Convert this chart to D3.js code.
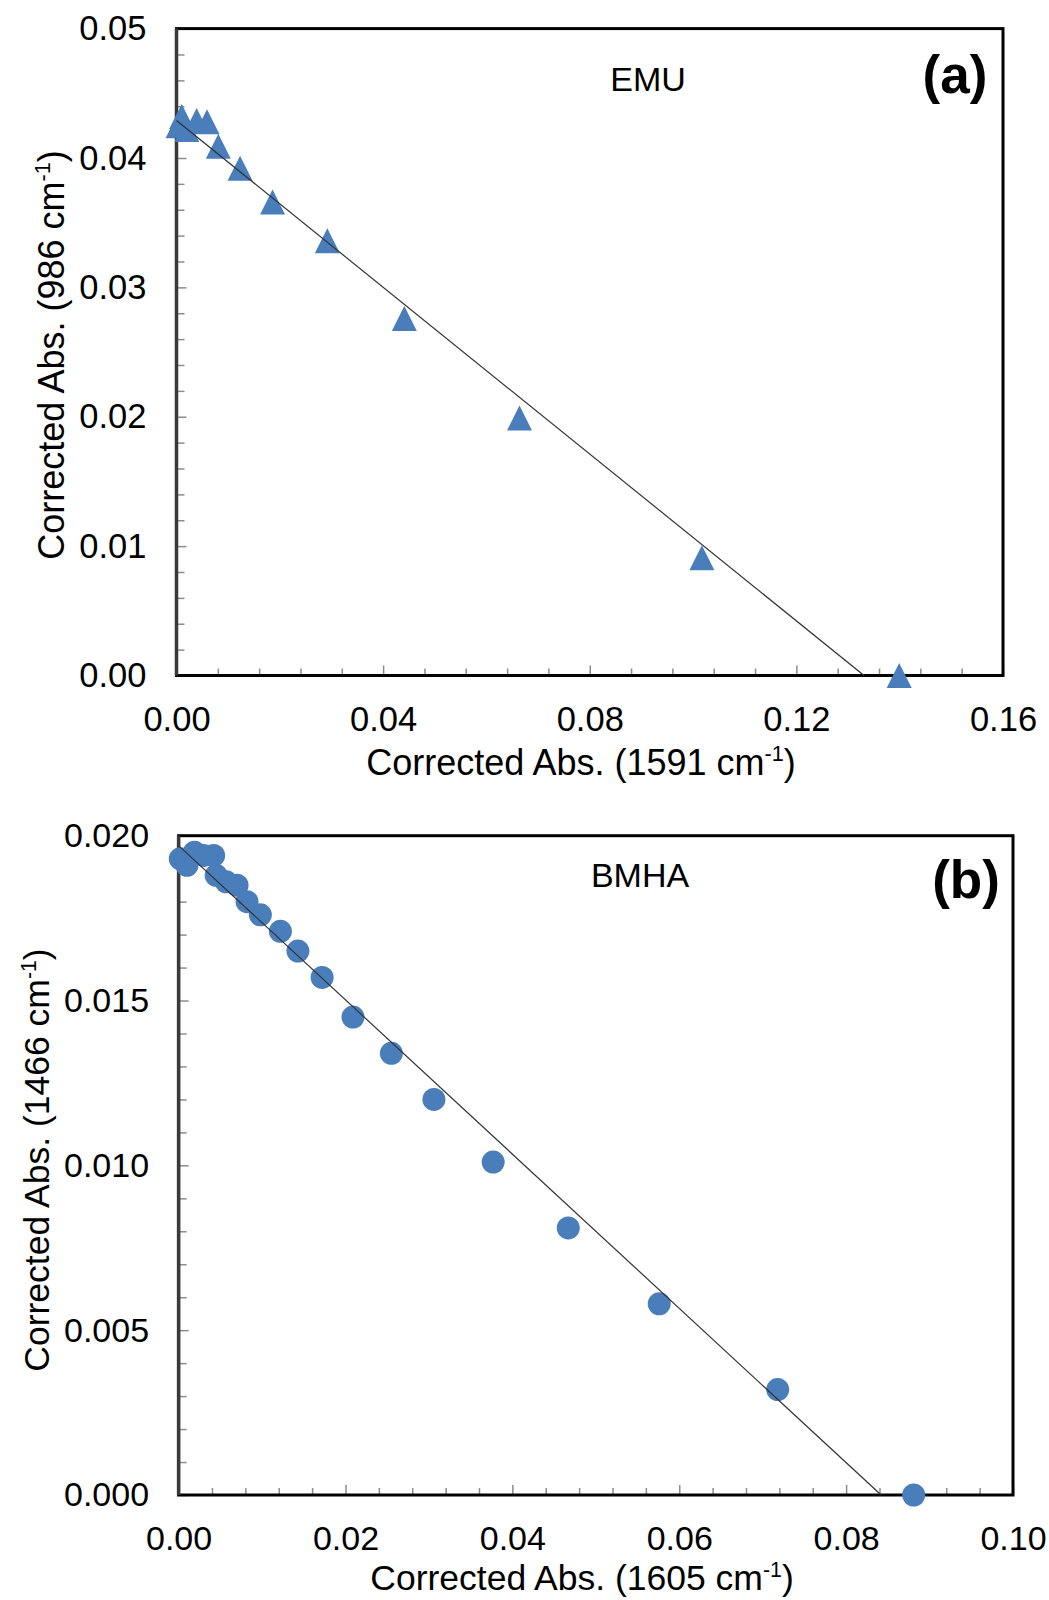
<!DOCTYPE html>
<html>
<head>
<meta charset="utf-8">
<script src="https://cdn.jsdelivr.net/npm/d3@7"></script>
<style>
  html, body { margin: 0; padding: 0; background: #fff; }
  svg { display: block; font-family: "Liberation Sans", Arial, sans-serif; }
</style>
</head>
<body>
<svg id="chart" width="1049" height="1600"></svg>
<script>
// (a) EMU: corrected absorbance at 1591 cm-1 vs 986 cm-1
const emuX = [0.0010, 0.0003, 0.0020, 0.0039, 0.0059, 0.0081, 0.0123, 0.0186, 0.0292, 0.0441, 0.0664, 0.1017, 0.1399];
const emuY = [0.0432, 0.0425, 0.0422, 0.0429, 0.0428, 0.0409, 0.0392, 0.0366, 0.0336, 0.0276, 0.0199, 0.0091, 0.0000];
const emuFitX = [0, 0.1331];
const emuFitY = [0.0429, 0];
const emuXTicks = [0, 0.04, 0.08, 0.12, 0.16];
const emuYTicks = [0, 0.01, 0.02, 0.03, 0.04, 0.05];

// (b) BMHA: corrected absorbance at 1605 cm-1 vs 1466 cm-1
const bmhaX = [0.0002, 0.0010, 0.0019, 0.0030, 0.0042, 0.0045, 0.0057, 0.0070, 0.0082, 0.0098, 0.0122, 0.0143, 0.0172, 0.0209, 0.0255, 0.0306, 0.0377, 0.0467, 0.0576, 0.0718, 0.0881];
const bmhaY = [0.0193, 0.0191, 0.0195, 0.0194, 0.0194, 0.0188, 0.0186, 0.0185, 0.0180, 0.0176, 0.0171, 0.0165, 0.0157, 0.0145, 0.0134, 0.0120, 0.0101, 0.0081, 0.0058, 0.0032, 0.0000];
const bmhaFitX = [0, 0.0842];
const bmhaFitY = [0.0197, 0];
const bmhaXTicks = [0, 0.02, 0.04, 0.06, 0.08, 0.10];
const bmhaYTicks = [0, 0.005, 0.010, 0.015, 0.020];

const MARKER = "#4a7ebb";
const TICK = "#8c8c8c";
const svg = d3.select("#chart");

// triangle marker inscribed in a square box centred on the point
function trianglePath(s) {
  const h = s / 2;
  return `M0,${-h}L${h},${h}L${-h},${h}Z`;
}

function drawPanel(p) {
  const x = d3.scaleLinear().domain(p.xDomain).range([p.left, p.right]);
  const y = d3.scaleLinear().domain(p.yDomain).range([p.bottom, p.top]);
  const g = svg.append("g");

  const eps = 1e-9;
  const isMajor = (v, majors) => majors.some(m => Math.abs(m - v) < eps);
  const xMinor = d3.range(p.xDomain[0], p.xDomain[1] + eps, p.xMinorStep).filter(v => !isMajor(v, p.xTicks));
  const yMinor = d3.range(p.yDomain[0], p.yDomain[1] + eps, p.yMinorStep).filter(v => !isMajor(v, p.yTicks));

  // minor ticks (inside)
  g.append("g").attr("transform", `translate(0,${p.bottom})`)
    .call(d3.axisBottom(x).tickValues(xMinor).tickSize(-7).tickFormat(""))
    .call(a => a.select(".domain").remove())
    .call(a => a.selectAll("line").attr("stroke", TICK).attr("stroke-width", 1.5));
  g.append("g").attr("transform", `translate(${p.left},0)`)
    .call(d3.axisLeft(y).tickValues(yMinor).tickSize(-8).tickFormat(""))
    .call(a => a.select(".domain").remove())
    .call(a => a.selectAll("line").attr("stroke", TICK).attr("stroke-width", 1.5));

  // major ticks with labels
  g.append("g").attr("transform", `translate(0,${p.bottom})`)
    .call(d3.axisBottom(x).tickValues(p.xTicks).tickSize(-10).tickPadding(p.xPad).tickFormat(d3.format(p.xFmt)))
    .call(a => a.select(".domain").remove())
    .call(a => a.selectAll("line").attr("stroke", TICK).attr("stroke-width", 1.5))
    .call(a => a.selectAll("text").attr("fill", "#000").attr("font-size", p.tickFont)
      .attr("font-family", "'Liberation Sans', Arial, sans-serif"));
  g.append("g").attr("transform", `translate(${p.left},0)`)
    .call(d3.axisLeft(y).tickValues(p.yTicks).tickSize(-10).tickPadding(p.yPad).tickFormat(d3.format(p.yFmt)))
    .call(a => a.select(".domain").remove())
    .call(a => a.selectAll("line").attr("stroke", TICK).attr("stroke-width", 1.5))
    .call(a => a.selectAll("text").attr("fill", "#000").attr("font-size", p.tickFont)
      .attr("font-family", "'Liberation Sans', Arial, sans-serif"));

  // plot area frame
  g.append("rect")
    .attr("x", p.left).attr("y", p.top)
    .attr("width", p.right - p.left).attr("height", p.bottom - p.top)
    .attr("fill", "none").attr("stroke", "#000").attr("stroke-width", 3);
  g.append("line")
    .attr("x1", p.left).attr("x2", p.left).attr("y1", p.top).attr("y2", p.bottom)
    .attr("stroke", "#3a3a3a").attr("stroke-width", 3.5);

  // markers
  const pts = p.xs.map((v, i) => [v, p.ys[i]]);
  if (p.marker === "triangle") {
    g.append("g").selectAll("path").data(pts).join("path")
      .attr("d", trianglePath(25))
      .attr("transform", d => `translate(${x(d[0])},${y(d[1])})`)
      .attr("fill", MARKER);
  } else {
    g.append("g").selectAll("circle").data(pts).join("circle")
      .attr("cx", d => x(d[0])).attr("cy", d => y(d[1])).attr("r", 11.5)
      .attr("fill", MARKER);
  }

  // linear fit
  const fit = p.fitX.map((v, i) => [v, p.fitY[i]]);
  g.append("path")
    .attr("d", d3.line().x(d => x(d[0])).y(d => y(d[1]))(fit))
    .attr("fill", "none").attr("stroke", "#333").attr("stroke-width", 1.2);

  // axis titles
  const xt = g.append("text").attr("x", p.xTitlePos[0]).attr("y", p.xTitlePos[1])
    .attr("text-anchor", "middle").attr("font-size", p.titleFont).attr("fill", "#000");
  xt.append("tspan").text(`Corrected Abs. (${p.xWave} cm`);
  xt.append("tspan").attr("font-size", p.titleFont * 0.6).attr("dy", -p.titleFont * 0.38).text("-1");
  xt.append("tspan").attr("dy", p.titleFont * 0.38).text(")");

  const yt = g.append("text")
    .attr("transform", `translate(${p.yTitlePos[0]},${p.yTitlePos[1]}) rotate(-90)`)
    .attr("text-anchor", "middle").attr("font-size", p.titleFont).attr("fill", "#000");
  yt.append("tspan").text(`Corrected Abs. (${p.yWave} cm`);
  yt.append("tspan").attr("font-size", p.titleFont * 0.6).attr("dy", -p.titleFont * 0.38).text("-1");
  yt.append("tspan").attr("dy", p.titleFont * 0.38).text(")");

  // sample name and panel letter
  g.append("text").attr("x", p.namePos[0]).attr("y", p.namePos[1])
    .attr("text-anchor", "middle").attr("font-size", 34).attr("fill", "#000").text(p.name);
  g.append("text").attr("x", p.letterPos[0]).attr("y", p.letterPos[1])
    .attr("text-anchor", "middle").attr("font-size", 53).attr("font-weight", "bold")
    .attr("fill", "#000").text(p.letter);
}

drawPanel({
  left: 176.5, right: 1003, top: 28.6, bottom: 675.5,
  xDomain: [0, 0.16], yDomain: [0, 0.05],
  xTicks: emuXTicks, yTicks: emuYTicks, xMinorStep: 0.008, yMinorStep: 0.002,
  xFmt: ".2f", yFmt: ".2f", xPad: 31, yPad: 30, tickFont: 34.5, titleFont: 36,
  xs: emuX, ys: emuY, fitX: emuFitX, fitY: emuFitY, marker: "triangle",
  xWave: "1591", yWave: "986",
  xTitlePos: [581, 775], yTitlePos: [64, 355],
  name: "EMU", namePos: [648, 91], letter: "(a)", letterPos: [955, 93]
});

drawPanel({
  left: 178.6, right: 1013, top: 835.7, bottom: 1495,
  xDomain: [0, 0.10], yDomain: [0, 0.020],
  xTicks: bmhaXTicks, yTicks: bmhaYTicks, xMinorStep: 0.004, yMinorStep: 0.001,
  xFmt: ".2f", yFmt: ".3f", xPad: 31, yPad: 29.5, tickFont: 34, titleFont: 35.5,
  xs: bmhaX, ys: bmhaY, fitX: bmhaFitX, fitY: bmhaFitY, marker: "circle",
  xWave: "1605", yWave: "1466",
  xTitlePos: [582, 1590], yTitlePos: [49, 1160],
  name: "BMHA", namePos: [640, 887], letter: "(b)", letterPos: [966, 898]
});
</script>
</body>
</html>
